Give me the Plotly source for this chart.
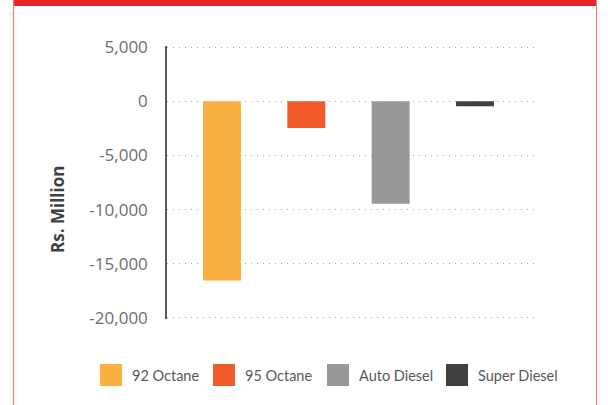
import plotly.graph_objects as go

# ---- data ----
categories = ["92 Octane", "95 Octane", "Auto Diesel", "Super Diesel"]
values = [-16550, -2480, -9450, -450]
colors = ["#FBB042", "#F15A2B", "#97989A", "#404041"]
tick_values = [5000, 0, -5000, -10000, -15000, -20000]
tick_labels = ["5,000", "0", "-5,000", "-10,000", "-15,000", "-20,000"]
y_title = "Rs. Million"

W, H = 608, 405
L, R, T, B = 167, 70, 46, 86
PW, PH = W - L - R, H - T - B

def px(x):
    return (x - L) / PW

def py(y):
    return (H - B - y) / PH

fig = go.Figure()
fig.add_trace(go.Bar(
    x=list(range(len(categories))), y=values,
    marker=dict(color=colors, line=dict(width=0)),
    width=0.45, showlegend=False, hovertext=categories,
))

shapes = []
annotations = []
# frame
shapes.append(dict(type="rect", xref="paper", yref="paper", x0=px(13), x1=px(597),
                   y0=py(6), y1=py(-2), fillcolor="#E4262B", line=dict(width=0), layer="above"))
for xx in (13.5, 596.5):
    shapes.append(dict(type="line", xref="paper", yref="paper", x0=px(xx), x1=px(xx),
                       y0=py(410), y1=py(0), line=dict(color="#EE7F7F", width=1.2)))

# manual legend
leg_x = [100, 213, 327, 446]
for lx, name, c in zip(leg_x, categories, colors):
    shapes.append(dict(type="rect", xref="paper", yref="paper", x0=px(lx), x1=px(lx + 22),
                       y0=py(386), y1=py(364), fillcolor=c, line=dict(width=0)))
    annotations.append(dict(xref="paper", yref="paper", x=px(lx + 30), y=py(375),
                            text=name, showarrow=False, xanchor="left", yanchor="middle",
                            font=dict(family="Lato, sans-serif", size=14.5, color="#58595B")))

annotations.append(dict(xref="paper", yref="paper", x=px(57), y=py(210), text="<b>" + y_title + "</b>",
                        textangle=-90, showarrow=False, xanchor="center", yanchor="middle",
                        font=dict(family="Open Sans, sans-serif", size=17, color="#414042")))

fig.update_layout(
    width=W, height=H,
    margin=dict(l=L, r=R, t=T, b=B, pad=0),
    paper_bgcolor="white", plot_bgcolor="white",
    barmode="overlay",
    shapes=shapes, annotations=annotations,
    xaxis=dict(range=[-0.652, 3.747], showgrid=False, zeroline=False, showticklabels=False,
               showline=False, ticks=""),
    yaxis=dict(range=[-20100, 5100], tickvals=tick_values, ticktext=tick_labels,
               showgrid=True, gridcolor="#A7A9AC", gridwidth=1, griddash="1px,5px",
               zeroline=False, showline=True, linecolor="#58595B", linewidth=1.5,
               ticks="", ticklabelstandoff=14,
               tickfont=dict(family="Open Sans, sans-serif", size=17, color="#6D6E71")),
)

fig.write_html("out.html", config={"displayModeBar": False},
               post_script="document.body.style.margin='0';document.body.style.overflow='hidden';")
